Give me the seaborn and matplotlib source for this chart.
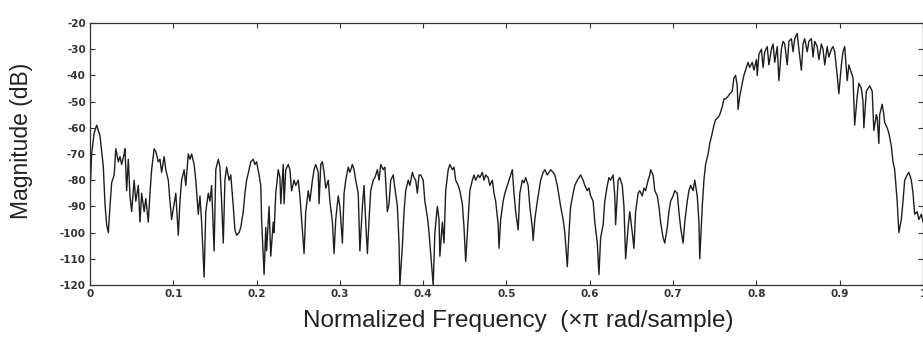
import matplotlib
matplotlib.use("Agg")
import matplotlib.pyplot as plt
import seaborn as sns
import pandas as pd

# Normalized frequency (x pi rad/sample)
freq = [
    0.000, 0.002, 0.005, 0.008, 0.012, 0.016, 0.018, 0.020, 0.022, 0.024, 0.026, 0.029, 0.031, 0.034, 0.036, 0.038,
    0.041, 0.042, 0.044, 0.046, 0.048, 0.050, 0.053, 0.055, 0.058, 0.060, 0.062, 0.065, 0.067, 0.070, 0.072, 0.074,
    0.077, 0.079, 0.082, 0.084, 0.086, 0.089, 0.091, 0.094, 0.096, 0.098, 0.101, 0.103, 0.106, 0.108, 0.110, 0.113,
    0.115, 0.118, 0.120, 0.122, 0.125, 0.127, 0.130, 0.132, 0.134, 0.137, 0.139, 0.142, 0.144, 0.146, 0.149, 0.151,
    0.154, 0.156, 0.158, 0.160, 0.162, 0.164, 0.167, 0.169, 0.172, 0.174, 0.176, 0.179, 0.181, 0.184, 0.186, 0.188,
    0.191, 0.193, 0.196, 0.198, 0.200, 0.203, 0.205, 0.206, 0.209, 0.211, 0.212, 0.215, 0.217, 0.220, 0.221, 0.223,
    0.226, 0.228, 0.229, 0.232, 0.233, 0.235, 0.238, 0.240, 0.242, 0.245, 0.247, 0.250, 0.252, 0.254, 0.257, 0.259,
    0.262, 0.264, 0.267, 0.269, 0.271, 0.274, 0.275, 0.277, 0.279, 0.281, 0.283, 0.286, 0.288, 0.291, 0.293, 0.295,
    0.298, 0.300, 0.303, 0.305, 0.307, 0.310, 0.312, 0.315, 0.317, 0.319, 0.322, 0.324, 0.327, 0.329, 0.331, 0.333,
    0.335, 0.337, 0.340, 0.342, 0.345, 0.347, 0.349, 0.352, 0.354, 0.357, 0.359, 0.361, 0.364, 0.366, 0.369, 0.371,
    0.372, 0.375, 0.377, 0.379, 0.382, 0.384, 0.387, 0.389, 0.391, 0.393, 0.395, 0.397, 0.400, 0.402, 0.405, 0.407,
    0.409, 0.412, 0.414, 0.417, 0.419, 0.420, 0.423, 0.425, 0.427, 0.430, 0.432, 0.435, 0.437, 0.439, 0.442, 0.444,
    0.447, 0.449, 0.451, 0.454, 0.456, 0.459, 0.461, 0.463, 0.466, 0.468, 0.471, 0.473, 0.475, 0.478, 0.480, 0.483,
    0.485, 0.487, 0.490, 0.491, 0.493, 0.496, 0.498, 0.501, 0.503, 0.505, 0.507, 0.509, 0.511, 0.514, 0.516, 0.519,
    0.521, 0.523, 0.526, 0.528, 0.531, 0.532, 0.534, 0.537, 0.539, 0.541, 0.544, 0.546, 0.549, 0.551, 0.553, 0.556,
    0.558, 0.561, 0.563, 0.565, 0.568, 0.570, 0.573, 0.575, 0.577, 0.580, 0.582, 0.585, 0.587, 0.589, 0.592, 0.594,
    0.597, 0.599, 0.601, 0.604, 0.606, 0.609, 0.611, 0.613, 0.616, 0.618, 0.621, 0.623, 0.625, 0.628, 0.630, 0.631,
    0.634, 0.636, 0.639, 0.641, 0.643, 0.646, 0.648, 0.651, 0.653, 0.655, 0.658, 0.660, 0.663, 0.665, 0.667, 0.670,
    0.672, 0.673, 0.676, 0.678, 0.681, 0.683, 0.685, 0.688, 0.690, 0.693, 0.695, 0.697, 0.700, 0.702, 0.705, 0.707,
    0.709, 0.712, 0.714, 0.717, 0.719, 0.721, 0.724, 0.726, 0.729, 0.731, 0.732, 0.735, 0.737, 0.739, 0.742, 0.744,
    0.747, 0.749, 0.751, 0.754, 0.756, 0.759, 0.761, 0.763, 0.766, 0.768, 0.771, 0.773, 0.775, 0.777, 0.778, 0.780,
    0.783, 0.785, 0.788, 0.790, 0.792, 0.795, 0.797, 0.800, 0.801, 0.803, 0.806, 0.808, 0.810, 0.813, 0.815, 0.818,
    0.820, 0.822, 0.825, 0.827, 0.830, 0.832, 0.834, 0.837, 0.839, 0.842, 0.844, 0.846, 0.849, 0.851, 0.854, 0.856,
    0.858, 0.861, 0.863, 0.866, 0.868, 0.870, 0.873, 0.875, 0.878, 0.880, 0.882, 0.885, 0.887, 0.890, 0.892, 0.894,
    0.897, 0.899, 0.902, 0.904, 0.906, 0.909, 0.911, 0.914, 0.916, 0.918, 0.921, 0.923, 0.926, 0.928, 0.929, 0.932,
    0.934, 0.936, 0.939, 0.941, 0.944, 0.945, 0.947, 0.948, 0.951, 0.953, 0.954, 0.957, 0.959, 0.962, 0.964, 0.966,
    0.969, 0.971, 0.974, 0.976, 0.978, 0.981, 0.983, 0.986, 0.988, 0.990, 0.993, 0.995, 0.998, 1.000,
]

# Magnitude (dB)
magnitude = [
    -85, -70, -62, -59, -63, -75, -89, -97, -100, -90, -81, -78, -68, -73, -71, -74,
    -70, -68, -84, -72, -86, -92, -80, -88, -82, -96, -85, -92, -87, -96, -85, -76,
    -68, -69, -73, -72, -77, -71, -76, -80, -88, -95, -89, -85, -101, -88, -80, -76,
    -82, -70, -72, -70, -74, -80, -93, -86, -96, -117, -92, -85, -88, -82, -107, -76,
    -72, -75, -88, -104, -80, -75, -80, -78, -90, -99, -101, -100, -98, -92, -85, -80,
    -76, -73, -72, -74, -73, -78, -82, -95, -116, -98, -107, -90, -109, -96, -100, -85,
    -76, -79, -89, -74, -89, -76, -74, -76, -84, -80, -82, -80, -86, -95, -108, -92,
    -84, -88, -80, -76, -74, -77, -89, -74, -73, -77, -83, -80, -88, -96, -108, -95,
    -86, -90, -104, -85, -80, -75, -77, -74, -76, -80, -85, -107, -90, -82, -96, -108,
    -95, -84, -80, -79, -76, -80, -74, -76, -75, -92, -89, -80, -78, -83, -90, -104,
    -120, -105, -92, -84, -80, -82, -77, -79, -80, -85, -78, -78, -80, -88, -94, -100,
    -108, -120, -100, -90, -95, -109, -96, -104, -84, -76, -74, -76, -75, -80, -82, -84,
    -89, -98, -111, -95, -84, -80, -78, -80, -78, -79, -77, -80, -78, -79, -82, -80,
    -85, -88, -97, -106, -95, -88, -85, -82, -80, -78, -76, -85, -92, -99, -85, -80,
    -81, -79, -82, -90, -98, -103, -95, -88, -84, -80, -77, -76, -78, -77, -76, -77,
    -78, -82, -86, -90, -95, -100, -113, -100, -90, -85, -82, -80, -79, -78, -80, -82,
    -84, -83, -86, -88, -96, -104, -116, -102, -97, -88, -82, -79, -80, -78, -86, -97,
    -80, -79, -82, -90, -110, -98, -92, -100, -106, -92, -85, -84, -86, -83, -84, -80,
    -78, -76, -78, -84, -86, -90, -96, -102, -104, -98, -92, -88, -86, -84, -85, -92,
    -98, -104, -96, -88, -84, -82, -84, -80, -86, -96, -110, -90, -80, -74, -70, -66,
    -62, -59, -57, -56, -55, -52, -49, -49, -48, -47, -46, -41, -40, -44, -53, -48,
    -43, -40, -37, -35, -37, -35, -38, -34, -40, -32, -30, -37, -31, -29, -36, -30,
    -28, -35, -29, -42, -30, -27, -28, -36, -27, -26, -31, -26, -24, -30, -38, -28,
    -26, -31, -27, -26, -33, -27, -29, -34, -28, -30, -36, -29, -33, -30, -29, -31,
    -40, -47, -36, -31, -29, -42, -36, -39, -41, -59, -48, -43, -45, -50, -60, -46,
    -45, -44, -46, -61, -55, -56, -66, -55, -51, -55, -58, -60, -62, -67, -73, -76,
    -88, -100, -95, -88, -80, -78, -77, -80, -85, -93, -92, -95, -93, -96,
]

y_ticks = [-20, -30, -40, -50, -60, -70, -80, -90, -100, -110, -120]
x_ticks = [0, 0.1, 0.2, 0.3, 0.4, 0.5, 0.6, 0.7, 0.8, 0.9, 1.0]
x_tick_labels = ["0", "0.1", "0.2", "0.3", "0.4", "0.5", "0.6", "0.7", "0.8", "0.9", "1"]
x_label = "Normalized Frequency  (\u00d7\u03c0 rad/sample)"
y_label = "Magnitude (dB)"

df = pd.DataFrame({"freq": freq, "mag": magnitude})

sns.set_theme(style="white")
plt.rcParams["font.family"] = ["Liberation Sans", "DejaVu Sans"]

fig = plt.figure(figsize=(9.23, 3.41), dpi=100)
ax = fig.add_axes([0.0975, 0.1642, 0.9025, 0.7684])

sns.lineplot(data=df, x="freq", y="mag", ax=ax, color="#1e1e1e",
             linewidth=1.0, estimator=None, sort=False)

ax.set_xlim(0, 1.0)
ax.set_ylim(-120, -20)
ax.set_xticks(x_ticks)
ax.set_xticklabels(x_tick_labels)
ax.set_yticks(y_ticks)
ax.set_yticklabels([str(v) for v in y_ticks])

for lab in ax.get_xticklabels() + ax.get_yticklabels():
    lab.set_fontfamily("DejaVu Sans")
    lab.set_fontweight("bold")
    lab.set_fontsize(7.5)
    lab.set_color("#333333")

ax.tick_params(axis="both", which="both", direction="in", length=3.5, width=0.8,
               color="#333333", top=True, right=True, bottom=True, left=True, pad=3)
for sp in ax.spines.values():
    sp.set_visible(True)
    sp.set_color("#333333")
    sp.set_linewidth(0.9)

ax.set_xlabel(x_label, fontsize=17.5, color="#222222")
ax.set_ylabel(y_label, fontsize=16.5, color="#222222")
ax.xaxis.set_label_coords(0.514, -0.095)
ax.yaxis.set_label_coords(-0.068, 0.55)

fig.savefig("out.png", dpi=100, facecolor="white")
